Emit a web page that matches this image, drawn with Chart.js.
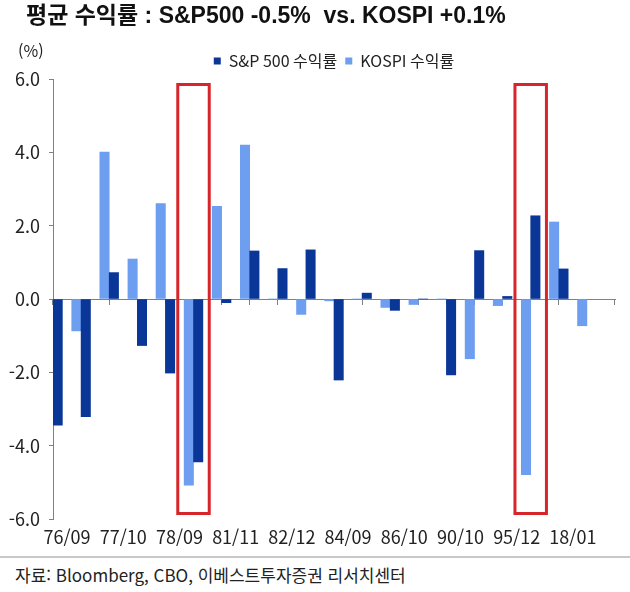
<!DOCTYPE html>
<html lang="ko">
<head>
<meta charset="utf-8">
<script src="https://cdn.jsdelivr.net/npm/chart.js@4.4.1/dist/chart.umd.min.js"></script>
<style>
  body { margin: 0; background: #fff; }
  #wrap { position: relative; width: 630px; height: 592px; }
  #titulo { position: absolute; left: 26px; top: 4px; font: bold 23px/1 'Liberation Sans', 'Noto Sans CJK KR', sans-serif; color: #111; white-space: pre; }
  #pct { position: absolute; left: 18px; top: 42px; font: 16px/1 'Liberation Sans Narrow', 'Noto Sans CJK KR', sans-serif; color: #222; }
  #rule { position: absolute; left: 0; top: 556px; width: 630px; height: 2px; background: #c8c8c8; }
  #src { position: absolute; left: 15px; top: 566px; font: 17px/1 'Liberation Sans Narrow', 'Noto Sans CJK KR', sans-serif; color: #222; }
</style>
</head>
<body>
<div id="wrap">
  <canvas id="grafico" width="630" height="552"></canvas>
  <div id="titulo">평균 수익률 : S&amp;P500 -0.5%  vs. KOSPI +0.1%</div>
  <div id="pct">(%)</div>
  <div id="rule"></div>
  <div id="src">자료: Bloomberg, CBO, 이베스트투자증권 리서치센터</div>
</div>
<script>
// rotulos: só as categorias pares aparecem no original
const rotulos = ['76/09', '', '77/10', '', '78/09', '', '81/11', '', '82/12', '',
                 '84/09', '', '86/10', '', '90/10', '', '95/12', '', '18/01', ''];
const sp500 = [-3.44, -3.21, 0.72, -1.27, -2.02, -4.44, -0.10, 1.31, 0.83, 1.34,
               -2.21, 0.16, -0.31, 0, -2.07, 1.32, 0.07, 2.27, 0.82, null];
const kospi = [-0.87, 4.01, 1.09, 2.60, -5.08, 2.53, 4.20, 0, -0.42, -0.05,
               0, -0.23, -0.15, 0, -1.63, -0.18, -4.79, 2.10, -0.73, null];
const vazio = rotulos.map(() => null);
const destaques = [4, 16]; // caixa vermelha entre a categoria i e i+1

const fonteEixo = { family: "'Liberation Sans Narrow', 'Noto Sans CJK KR', sans-serif", size: 18 };
const cinza = '#808080';

const caixasVermelhas = {
  id: 'caixasVermelhas',
  afterDatasetsDraw(chart) {
    const x = chart.scales.x, y = chart.scales.y;
    const passo = x.getPixelForValue(1) - x.getPixelForValue(0);
    const topo = y.getPixelForValue(5.85);
    const base = y.getPixelForValue(-5.85);
    const c = chart.ctx;
    c.save();
    c.strokeStyle = '#d7262b';
    c.lineWidth = 3;
    destaques.forEach(i => {
      const meio = x.getPixelForValue(i) + passo / 2;
      c.strokeRect(meio - passo * 0.56, topo, passo * 1.12, base - topo);
    });
    c.restore();
  }
};

const ctx = document.getElementById('grafico').getContext('2d');
const grafico = new Chart(ctx, {
  type: 'bar',
  data: {
    labels: rotulos,
    datasets: [
      { label: 'S&P 500 수익률', data: sp500, backgroundColor: '#0a3797', xAxisID: 'x' },
      { label: '', data: vazio, backgroundColor: 'rgba(0,0,0,0)', xAxisID: 'x' },
      { label: 'KOSPI 수익률', data: kospi, backgroundColor: '#6d9ef0', xAxisID: 'x' }
    ]
  },
  options: {
    responsive: false,
    animation: false,
    categoryPercentage: 1,
    barPercentage: 1,
    layout: { padding: { left: 8, right: 15, top: 45, bottom: 0 } },
    plugins: {
      tooltip: { enabled: false },
      title: { display: false },
      legend: {
        display: true,
        fullSize: false,
        labels: {
          filter: item => item.text !== '',
          boxWidth: 7,
          boxHeight: 7,
          padding: 8,
          color: '#222',
          font: { family: "'Liberation Sans Narrow', 'Noto Sans CJK KR', sans-serif", size: 16 }
        }
      }
    },
    scales: {
      x: {
        position: { y: 0 },
        offset: true,
        grid: { offset: true, drawOnChartArea: false, tickLength: 5, color: cinza },
        border: { color: cinza },
        ticks: { display: false }
      },
      xRotulos: {
        type: 'category',
        position: 'bottom',
        offset: true,
        grid: { display: false, drawTicks: false },
        border: { display: false },
        ticks: { autoSkip: false, maxRotation: 0, padding: 7, color: '#222', font: fonteEixo },
        afterFit(s) { s.height = 33; }
      },
      y: {
        min: -6,
        max: 6,
        grid: { drawOnChartArea: false, tickLength: 4, color: cinza },
        border: { color: cinza },
        ticks: { stepSize: 2, padding: 9, color: '#222', font: fonteEixo, callback: v => v.toFixed(1) },
        afterFit(s) { s.width = 45; }
      }
    }
  },
  plugins: [caixasVermelhas]
});
</script>
</body>
</html>
